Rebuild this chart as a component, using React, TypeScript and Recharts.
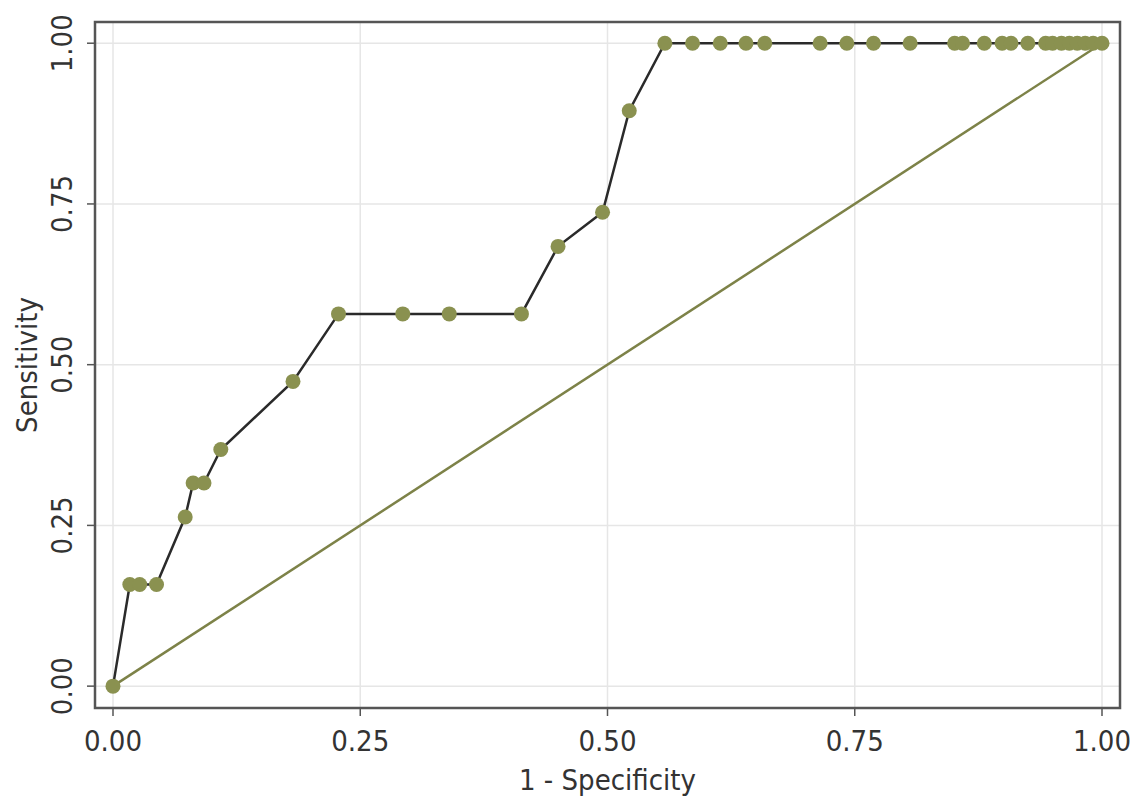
import { ComposedChart, Line, XAxis, YAxis, CartesianGrid, ReferenceArea } from 'recharts'

// 1 - specificity (false positive rate) for each cut-off
const fpr = [
  0, 0.017, 0.027, 0.044, 0.073, 0.081, 0.092, 0.109, 0.182, 0.228, 0.293, 0.34, 0.413,
  0.45, 0.495, 0.522, 0.558, 0.586, 0.614, 0.64, 0.659, 0.715, 0.742, 0.769, 0.806,
  0.851, 0.859, 0.881, 0.899, 0.908, 0.925, 0.943, 0.95, 0.959, 0.967, 0.975, 0.983,
  0.991, 1.0,
]
// sensitivity for each cut-off
const sensitivity = [
  0, 0.158, 0.158, 0.158, 0.263, 0.316, 0.316, 0.368, 0.474, 0.579, 0.579, 0.579, 0.579,
  0.684, 0.737, 0.895, 1, 1, 1, 1, 1, 1, 1, 1, 1,
  1, 1, 1, 1, 1, 1, 1, 1, 1, 1, 1, 1,
  1, 1,
]
const refX = [0, 1]
const refY = [0, 1]
const ticks = [0, 0.25, 0.5, 0.75, 1]

const rocData = fpr.map((x, i) => ({ x, y: sensitivity[i] }))
const refData = refX.map((x, i) => ({ x, y: refY[i] }))

const FONT = '"DejaVu Sans Condensed", "DejaVu Sans", sans-serif'
const OLIVE = '#8a9150'
const TEXT = '#333'
const FS = 29

const xDomain: [number, number] = [-0.0182, 1.0182]
const yDomain: [number, number] = [-0.034, 1.033]

function YTick({ x, y, payload }: any) {
  const bx = x - 13
  return (
    <text
      x={bx}
      y={y}
      transform={`rotate(-90 ${bx} ${y})`}
      textAnchor="middle"
      fontSize={FS}
      fontFamily={FONT}
      fill={TEXT}
    >
      {Number(payload.value).toFixed(2)}
    </text>
  )
}

export default function App() {
  return (
    <div style={{ position: 'absolute', left: 0, top: 0, background: '#fff' }}>
      <ComposedChart width={1147} height={800} margin={{ top: 22, right: 27, left: 0, bottom: 0 }}>
        <CartesianGrid stroke="#e6e6e6" strokeWidth={1.5} />
        <XAxis
          type="number"
          dataKey="x"
          domain={xDomain}
          ticks={ticks}
          allowDataOverflow
          height={92}
          tickSize={8}
          tickLine={{ stroke: '#555', strokeWidth: 1.5 }}
          axisLine={false}
          tickFormatter={(v: number) => v.toFixed(2)}
          tick={{ fontSize: FS, fontFamily: FONT, fill: TEXT, dy: 12 }}
          label={{ value: '1 - Specificity', position: 'insideBottom', offset: 10, fontSize: FS, fontFamily: FONT, fill: TEXT }}
        />
        <YAxis
          type="number"
          dataKey="y"
          domain={yDomain}
          ticks={ticks}
          allowDataOverflow
          width={95}
          tickSize={8}
          tickLine={{ stroke: '#555', strokeWidth: 1.5 }}
          axisLine={false}
          tick={<YTick />}
          label={{ value: 'Sensitivity', angle: -90, position: 'insideLeft', offset: 27, fontSize: FS, fontFamily: FONT, fill: TEXT, style: { textAnchor: 'middle' } }}
        />
        <ReferenceArea
          x1={xDomain[0]}
          x2={xDomain[1]}
          y1={yDomain[0]}
          y2={yDomain[1]}
          fill="none"
          stroke="#555"
          strokeWidth={2.5}
          ifOverflow="visible"
        />
        <Line
          data={refData}
          dataKey="y"
          type="linear"
          stroke="#7d8248"
          strokeWidth={2.5}
          dot={false}
          isAnimationActive={false}
        />
        <Line
          data={rocData}
          dataKey="y"
          type="linear"
          stroke="#2a2a2a"
          strokeWidth={2.5}
          dot={{ r: 7.5, fill: OLIVE, stroke: 'none' }}
          isAnimationActive={false}
        />
      </ComposedChart>
    </div>
  )
}
